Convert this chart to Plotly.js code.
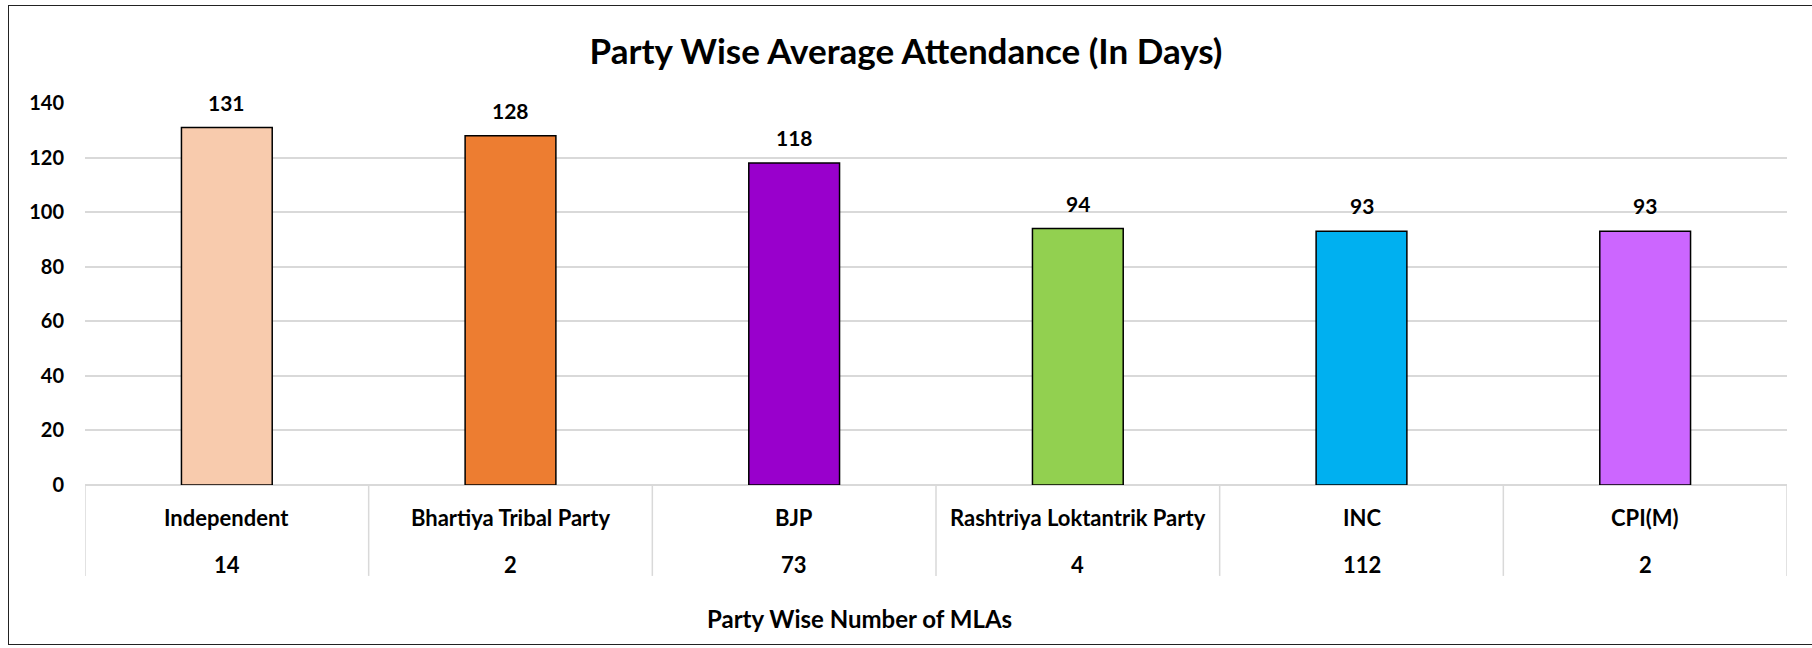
<!DOCTYPE html>
<html>
<head>
<meta charset="utf-8">
<script src="https://cdn.plot.ly/plotly-3.0.1.min.js"></script>
<style>
  html, body { margin: 0; padding: 0; background: #fff; }
  #wrap { position: relative; width: 1812px; height: 648px; }
  #chart { width: 1812px; height: 648px; }
  #frame { position: absolute; left: 8px; top: 5px; width: 1830px; height: 640px;
           border-left: 1.5px solid #222; border-top: 1.5px solid #222; border-bottom: 1.5px solid #222;
           pointer-events: none; box-sizing: border-box; }
</style>
</head>
<body>
<div id="wrap">
  <div id="chart"></div>
  <div id="frame"></div>
</div>
<script>
const parties = ["Independent", "Bhartiya Tribal Party", "BJP", "Rashtriya Loktantrik Party", "INC", "CPI(M)"];
const avgAttendance = [131, 128, 118, 94, 93, 93];
const mlaCounts = ["14", "2", "73", "4", "112", "2"];
const barColors = ["#F8CBAD", "#ED7D31", "#9900CC", "#92D050", "#00B0F0", "#CC66FF"];
const yTicks = [0, 20, 40, 60, 80, 100, 120, 140];

const FONT = "Lato, 'Open Sans', sans-serif";
const ink = "#000";

const trace = {
  type: "bar",
  x: parties,
  y: avgAttendance,
  width: 0.32,
  marker: { color: barColors, line: { color: "#000", width: 1.5 } },
  hoverinfo: "x+y"
};

const annotations = [];
parties.forEach((p, i) => {
  annotations.push({ x: p, y: avgAttendance[i], xref: "x", yref: "y", text: String(avgAttendance[i]),
    showarrow: false, yanchor: "bottom", yshift: 11, font: { family: FONT, size: 21, color: ink, weight: 700 } });
  annotations.push({ x: p, y: 0, xref: "x", yref: "paper", text: p, showarrow: false,
    yanchor: "middle", yshift: -32, font: { family: FONT, size: 22, color: ink, weight: 700 } });
  annotations.push({ x: p, y: 0, xref: "x", yref: "paper", text: mlaCounts[i], showarrow: false,
    yanchor: "middle", yshift: -79, font: { family: FONT, size: 22, color: ink, weight: 700 } });
});
annotations.push({ x: 0.455, y: 0, xref: "paper", yref: "paper", text: "Party Wise Number of MLAs",
  showarrow: false, yanchor: "middle", yshift: -133, font: { family: FONT, size: 24, color: ink, weight: 700 } });

const shapes = [];
for (let k = 0; k <= parties.length; k++) {
  shapes.push({ type: "line", xref: "x", yref: "paper", x0: k - 0.5, x1: k - 0.5, y0: 0, y1: -0.238,
    line: { color: "#d9d9d9", width: 1.5 } });
}

const layout = {
  width: 1812, height: 648,
  margin: { l: 85, r: 25, t: 103, b: 163 },
  paper_bgcolor: "#fff", plot_bgcolor: "#fff",
  showlegend: false,
  title: { text: "Party Wise Average Attendance (In Days)", x: 0.5, xref: "container", y: 0.92, yanchor: "middle",
    font: { family: FONT, size: 35, color: ink, weight: 700 } },
  xaxis: { type: "category", range: [-0.5, 5.5], showticklabels: false, showgrid: false, zeroline: false,
    showline: false, ticks: "" },
  yaxis: { range: [0, 140], tickvals: yTicks, ticktext: yTicks.map(String), showgrid: true, gridcolor: "#d9d9d9",
    gridwidth: 1.5, zeroline: true, zerolinecolor: "#d9d9d9", zerolinewidth: 1.5, showline: false, ticks: "",
    ticklabelstandoff: 20, tickfont: { family: FONT, size: 20, color: ink, weight: 700 } },
  annotations: annotations,
  shapes: shapes
};

Plotly.newPlot("chart", [trace], layout, { displayModeBar: false });
</script>
</body>
</html>
